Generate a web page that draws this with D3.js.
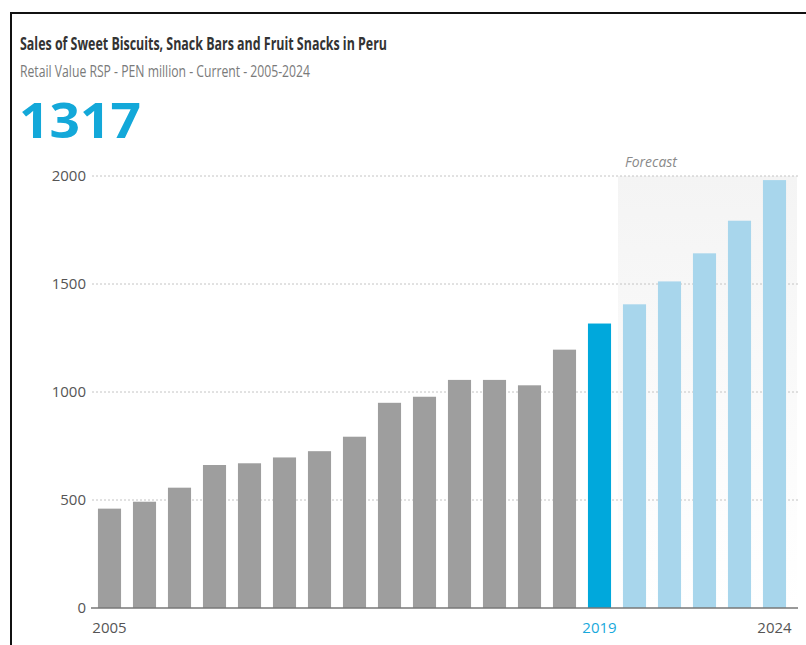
<!DOCTYPE html>
<html>
<head>
<meta charset="utf-8">
<script src="https://cdn.jsdelivr.net/npm/d3@7"></script>
<style>
  body { margin: 0; background: #fff; }
  svg { display: block; }
</style>
</head>
<body>
<div id="chart"></div>
<script>
// data
const years = [2005, 2006, 2007, 2008, 2009, 2010, 2011, 2012, 2013, 2014,
               2015, 2016, 2017, 2018, 2019, 2020, 2021, 2022, 2023, 2024];
const sales = [460, 492, 557, 662, 670, 697, 726, 793, 950, 978,
               1056, 1056, 1031, 1196, 1317, 1406, 1512, 1642, 1793, 1981];
const yTicks = [0, 500, 1000, 1500, 2000];
const xLabels = [2005, 2019, 2024];
const currentYear = 2019;
const forecastStart = 2020;

const W = 806, H = 645;
const margin = { top: 176, right: 6, bottom: 37, left: 92 };
const width = W - margin.left - margin.right;
const height = H - margin.top - margin.bottom;

const svg = d3.select('#chart')
  .append('svg')
  .attr('width', W)
  .attr('height', H);

// frame
svg.append('path')
  .attr('d', `M11,${H + 5} L11,13 L${W + 5},13`)
  .attr('fill', 'none')
  .attr('stroke', '#111')
  .attr('stroke-width', 2);

// header texts
svg.append('text')
  .attr('x', 20).attr('y', 50)
  .attr('textLength', 367).attr('lengthAdjust', 'spacingAndGlyphs')
  .style('font-family', '"Open Sans", sans-serif')
  .style('font-size', '18px')
  .style('font-weight', '700')
  .style('fill', '#333')
  .text('Sales of Sweet Biscuits, Snack Bars and Fruit Snacks in Peru');

svg.append('text')
  .attr('x', 20).attr('y', 77)
  .attr('textLength', 290).attr('lengthAdjust', 'spacingAndGlyphs')
  .style('font-family', '"Open Sans", sans-serif')
  .style('font-size', '16px')
  .style('fill', '#7a7a7a')
  .text('Retail Value RSP - PEN million - Current - 2005-2024');

svg.append('text')
  .attr('x', 19).attr('y', 138)
  .attr('textLength', 122).attr('lengthAdjust', 'spacingAndGlyphs')
  .style('font-family', '"Open Sans", sans-serif')
  .style('font-size', '48px')
  .style('font-weight', '700')
  .style('fill', '#13a8d9')
  .text(sales[years.indexOf(currentYear)]);

const g = svg.append('g')
  .attr('transform', `translate(${margin.left},${margin.top})`);

// scales
const x = d3.scaleBand()
  .domain(years)
  .range([0, width - 8])
  .paddingInner(0.34)
  .paddingOuter(0.17);

const y = d3.scaleLinear()
  .domain([0, 2000])
  .range([height, 0]);

// forecast shading
const grad = svg.append('defs')
  .append('linearGradient')
  .attr('id', 'fc-grad')
  .attr('x1', 0).attr('y1', 0).attr('x2', 0).attr('y2', 1);
grad.append('stop').attr('offset', '0%').attr('stop-color', '#f4f4f4');
grad.append('stop').attr('offset', '60%').attr('stop-color', '#fbfbfb');
grad.append('stop').attr('offset', '100%').attr('stop-color', '#ffffff');

const fx = x(forecastStart) - x.step() * x.paddingInner() / 2 + 1;
g.append('rect')
  .attr('x', fx)
  .attr('y', y(2000))
  .attr('width', width - 3 - fx)
  .attr('height', y(0) - y(2000))
  .attr('fill', 'url(#fc-grad)');

g.append('text')
  .attr('x', fx + 33)
  .attr('y', y(2000) - 9)
  .attr('text-anchor', 'middle')
  .style('font-family', '"Open Sans", sans-serif')
  .style('font-size', '14px')
  .style('font-style', 'italic')
  .style('fill', '#8a8a8a')
  .text('Forecast');

// gridlines
g.append('g')
  .selectAll('line')
  .data(yTicks.filter(d => d > 0))
  .enter()
  .append('line')
  .attr('x1', 0)
  .attr('x2', width - 2)
  .attr('y1', d => y(d))
  .attr('y2', d => y(d))
  .attr('stroke', '#c4c4c4')
  .attr('stroke-width', 1)
  .attr('stroke-dasharray', '2,2');

// bars
g.selectAll('.bar')
  .data(years)
  .enter()
  .append('rect')
  .attr('class', 'bar')
  .attr('x', d => x(d))
  .attr('y', (d, i) => y(sales[i]))
  .attr('width', x.bandwidth())
  .attr('height', (d, i) => y(0) - y(sales[i]))
  .attr('fill', d => d === currentYear ? '#00a8dc' : (d > currentYear ? '#a8d6ec' : '#9e9e9e'));

// y axis
const yAxis = g.append('g')
  .call(d3.axisLeft(y).tickValues(yTicks).tickFormat(d3.format('d')).tickSize(0).tickPadding(6));
yAxis.select('.domain').remove();
yAxis.selectAll('text')
  .style('font-family', '"Open Sans", sans-serif')
  .style('font-size', '15px')
  .style('fill', '#555');

// x axis baseline
g.append('line')
  .attr('x1', -1).attr('x2', width - 2)
  .attr('y1', y(0)).attr('y2', y(0))
  .attr('stroke', '#777')
  .attr('stroke-width', 1.5);

// x labels
g.append('g')
  .selectAll('text')
  .data(xLabels)
  .enter()
  .append('text')
  .attr('x', d => x(d) + x.bandwidth() / 2)
  .attr('y', y(0) + 25)
  .attr('text-anchor', 'middle')
  .style('font-family', '"Open Sans", sans-serif')
  .style('font-size', '15px')
  .style('fill', d => d === currentYear ? '#18a9dc' : '#555')
  .text(d => d);
</script>
</body>
</html>
